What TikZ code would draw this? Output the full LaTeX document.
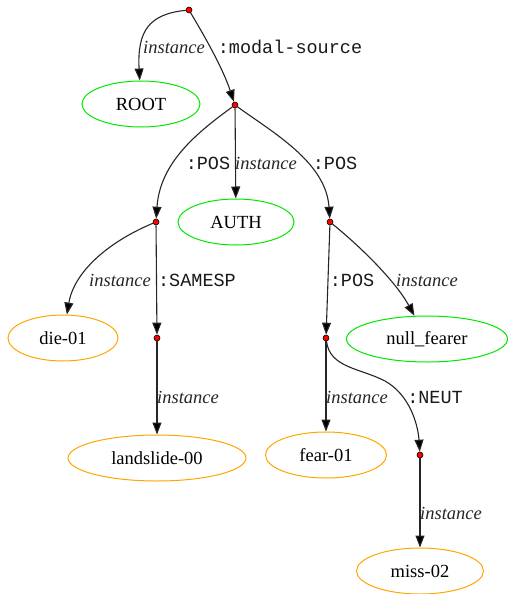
\documentclass[tikz,border=0pt]{standalone}
\usepackage{fontspec}
\setmainfont{Liberation Serif}
\setmonofont{Liberation Mono}
\usetikzlibrary{shapes.geometric,arrows.meta}

\begin{document}
\begin{tikzpicture}[x=1pt,y=-1pt,
  every node/.style={font=\fontsize{18.5}{22}\selectfont},
  concept/.style={ellipse, draw, line width=1pt, inner sep=0pt, minimum height=46pt},
  gconcept/.style={concept, draw={rgb,255:red,0;green,230;blue,0}},
  oconcept/.style={concept, draw={rgb,255:red,255;green,165;blue,0}},
  var/.style={circle, draw=black, fill=red, inner sep=0pt, minimum size=6pt, line width=0.6pt},
  link/.style={draw=black!85, line width=1.1pt, -{Triangle[length=12pt,width=9pt,fill=black]}},
  rel/.style={font=\ttfamily\fontsize{18.5}{22}\selectfont, text=black!90},
  inst/.style={font=\itshape\fontsize{18.5}{22}\selectfont, text=black!85}]
\useasboundingbox (0,0) rectangle (509,594);

% variables
\node[var] (d0) at (189,10) {};
\node[var] (d1) at (235,105) {};
\node[var] (d2) at (156,222) {};
\node[var] (d3) at (330,222) {};
\node[var] (d4) at (157,338) {};
\node[var] (d5) at (326,338) {};
\node[var] (d6) at (420,455) {};

% concepts
\node[gconcept, minimum width=118pt] (root) at (141,104) {ROOT};
\node[gconcept, minimum width=116pt] (auth) at (236,222) {AUTH};
\node[oconcept, minimum width=110pt] (die) at (63,338) {die-01};
\node[gconcept, minimum width=161pt] (null) at (427,339) {null\_fearer};
\node[oconcept, minimum width=178pt] (land) at (157,458) {landslide-00};
\node[oconcept, minimum width=121pt] (fear) at (326,455) {fear-01};
\node[oconcept, minimum width=127pt] (miss) at (420,571) {miss-02};

% relations
\draw[link] (d0) .. controls (150,14) and (137,30) .. (root);
\draw[link] (d0) .. controls (202,32) and (222,66) .. (d1);
\draw[link] (d1) .. controls (198,132) and (160,162) .. (d2);
\draw[link] (d1) -- (auth);
\draw[link] (d1) .. controls (272,132) and (326,162) .. (d3);
\draw[link] (d2) .. controls (108,242) and (74,272) .. (die);
\draw[link] (d2) -- (d4);
\draw[link] (d4) -- (land);
\draw[link] (d3) -- (d5);
\draw[link] (d3) .. controls (362,248) and (396,282) .. (null);
\draw[link] (d5) -- (fear);
\draw[link] (d5) .. controls (330,368) and (360,368) .. (385,381)
  .. controls (410,395) and (418,425) .. (d6);
\draw[link] (d6) -- (miss);

% labels
\node[inst] (l1) at (174,47) {instance};
\node[rel] (l2) at (290,47) {:modal-source};
\node[rel] (l3) at (208,163) {:POS};
\node[inst] (l4) at (266,163) {instance};
\node[rel] (l5) at (335,163) {:POS};
\node[inst] (l6) at (120,280) {instance};
\node[rel] (l7) at (197,280) {:SAMESP};
\node[rel] (l8) at (352,280) {:POS};
\node[inst] (l9) at (427,280) {instance};
\node[inst] (l10) at (188,397) {instance};
\node[inst] (l11) at (357,397) {instance};
\node[rel] (l12) at (435,397) {:NEUT};
\node[inst] (l13) at (451,513) {instance};
\end{tikzpicture}
\end{document}
